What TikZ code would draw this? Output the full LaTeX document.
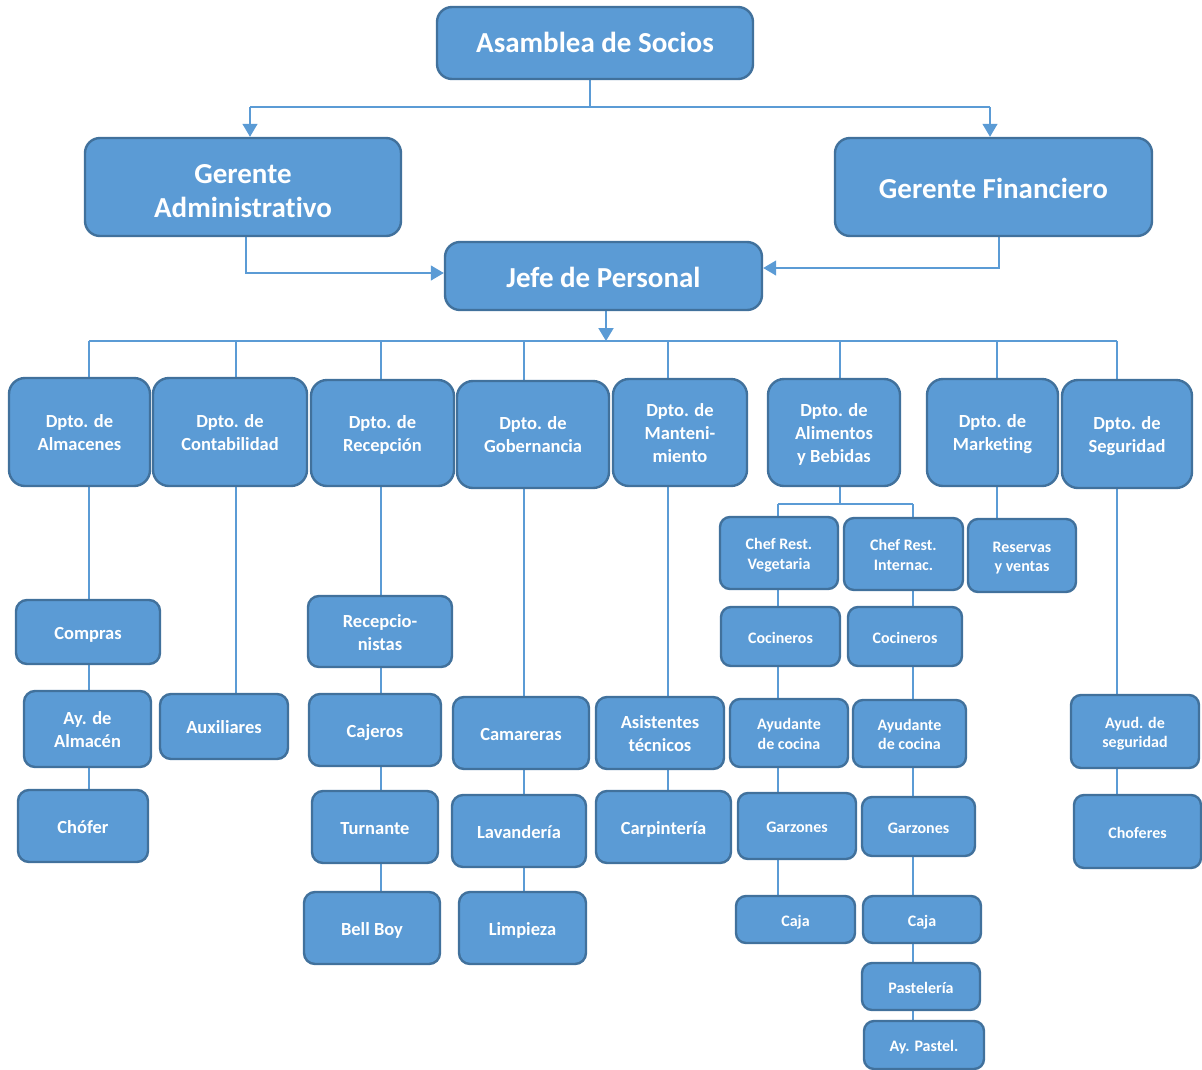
\documentclass[tikz,border=0pt]{standalone}
\usepackage{fontspec}
\setmainfont{Carlito}[Ligatures=NoCommon]
\usetikzlibrary{arrows.meta}
\definecolor{boxfill}{HTML}{5B9BD5}
\definecolor{boxline}{HTML}{41719C}
\definecolor{wire}{HTML}{5B9BD5}
\pgfdeclarelayer{bg}\pgfsetlayers{bg,main}

% invisible struts: height on the first line, depth on the last line;
% together they set the vertical centring of the box texts
\def\sht{19.5pt}\def\sdp{4.9pt}
\newcommand\topprop{\rule{0pt}{\sht}}
\newcommand\botprop{\rule[-\sdp]{0pt}{\sdp}}
\newcommand\setprop[2]{\def\sht{#1}\def\sdp{#2}}

\tikzset{
  box/.style={draw=boxline, fill=boxfill, line width=2.4pt, rounded corners=12pt,
              text=white, align=center, inner sep=0pt},
  big/.style={font=\fontsize{29}{34}\selectfont\bfseries, rounded corners=15pt,
              /utils/exec={\setprop{30pt}{7pt}}},
  lowtext/.style={/utils/exec={\setprop{32pt}{4.4pt}}},
  hightext/.style={/utils/exec={\setprop{28pt}{9pt}}},
  dept/.style={font=\fontsize{18.5}{23}\selectfont\bfseries, rounded corners=16pt,
              /utils/exec={\setprop{19.5pt}{6.1pt}}},
  mid/.style={font=\fontsize{18.5}{23}\selectfont\bfseries, rounded corners=11pt,
              /utils/exec={\setprop{19.5pt}{4.9pt}}},
  small/.style={font=\fontsize{16}{19.5}\selectfont\bfseries, rounded corners=10pt,
              /utils/exec={\setprop{17.5pt}{4.5pt}}},
  wireA/.style={draw=wire, line width=1.3pt},
  wireB/.style={draw=wire, line width=2.4pt},
  wireC/.style={draw=wire, line width=2pt},
  tip/.style={-{Triangle[width=15pt,length=13pt]}},
}

% \orgbox[style]{name}{left}{top}{right}{bottom}{text}
\newcommand\orgbox[7][]{%
  \pgfmathsetmacro\obw{#5-#3}\pgfmathsetmacro\obh{#6-#4}%
  \node[box,#1,minimum width=\obw pt,minimum height=\obh pt] (#2)
    at ({(#3+#5)/2},{(#4+#6)/2}) {\topprop#7\botprop};}

\begin{document}
\begin{tikzpicture}[x=1pt,y=-1pt]
\useasboundingbox (0,0) rectangle (1202,1069);

% top management
\orgbox[big,hightext]{asam}{437}{7}{753}{79}{Asamblea de Socios}
\orgbox[big,lowtext]{ga}{85}{138}{401}{236}{Gerente\\Administrativo}
\orgbox[big]{gf}{835}{138}{1152}{236}{Gerente Financiero}
\orgbox[big]{jefe}{445}{242}{762}{310}{Jefe de Personal}

% departments
\orgbox[dept]{d1}{9}{378}{150}{486}{Dpto. de\\Almacenes}
\orgbox[dept]{d2}{153}{378}{307}{486}{Dpto. de\\Contabilidad}
\orgbox[dept]{d3}{311}{380}{454}{486}{Dpto. de\\Recepción}
\orgbox[dept]{d4}{457}{381}{609}{488}{Dpto. de\\Gobernancia}
\orgbox[dept]{d5}{613}{379}{747}{486}{Dpto. de\\Manteni-\\miento}
\orgbox[dept]{d6}{768}{379}{900}{486}{Dpto. de\\Alimentos\\y Bebidas}
\orgbox[dept]{d7}{927}{379}{1058}{486}{Dpto. de\\Marketing}
\orgbox[dept]{d8}{1062}{380}{1192}{488}{Dpto. de\\Seguridad}

% staff
\orgbox[mid]{compras}{16}{600}{160}{664}{Compras}
\orgbox[mid]{ayalm}{24}{691}{151}{767}{Ay. de\\Almacén}
\orgbox[mid]{chofer}{18}{790}{148}{862}{Chófer}
\orgbox[mid]{aux}{160}{694}{288}{759}{Auxiliares}
\orgbox[mid]{recep}{308}{596}{452}{667}{Recepcio-\\nistas}
\orgbox[mid]{caj}{309}{694}{441}{766}{Cajeros}
\orgbox[mid]{turn}{312}{791}{438}{863}{Turnante}
\orgbox[mid]{bell}{304}{892}{440}{964}{Bell Boy}
\orgbox[mid]{cam}{453}{697}{589}{769}{Camareras}
\orgbox[mid]{lav}{452}{795}{586}{867}{Lavandería}
\orgbox[mid]{limp}{459}{892}{586}{964}{Limpieza}
\orgbox[mid]{asis}{596}{697}{724}{769}{Asistentes\\técnicos}
\orgbox[mid]{carp}{596}{791}{731}{863}{Carpintería}

\orgbox[small]{chefv}{720}{517}{838}{589}{Chef Rest.\\Vegetaria}
\orgbox[small]{chefi}{844}{518}{963}{590}{Chef Rest.\\Internac.}
\orgbox[small]{cocl}{721}{607}{840}{666}{Cocineros}
\orgbox[small]{cocr}{848}{607}{962}{666}{Cocineros}
\orgbox[small]{ayul}{730}{699}{848}{767}{Ayudante\\de cocina}
\orgbox[small]{ayur}{853}{700}{966}{767}{Ayudante\\de cocina}
\orgbox[small]{garl}{738}{793}{856}{859}{Garzones}
\orgbox[small]{garr}{862}{797}{975}{856}{Garzones}
\orgbox[small]{cajal}{736}{896}{855}{943}{Caja}
\orgbox[small]{cajar}{863}{896}{981}{943}{Caja}
\orgbox[small]{pas}{862}{963}{980}{1010}{Pastelería}
\orgbox[small]{aypas}{864}{1021}{984}{1069}{Ay. Pastel.}
\orgbox[small]{res}{968}{519}{1076}{592}{Reservas\\y ventas}
\orgbox[small]{ayseg}{1071}{695}{1199}{768}{Ayud. de\\seguridad}
\orgbox[small]{chofs}{1074}{795}{1201}{868}{Choferes}

% junction points
\coordinate (t0) at (590,107);
\coordinate (tL) at (250,107);
\coordinate (tR) at (990,107);
\coordinate (gaL) at (246,273);
\coordinate (gfR) at (999,268);
\coordinate (bj) at (606,341);
\coordinate (b1) at (89,341);
\coordinate (b2) at (236,341);
\coordinate (b3) at (381,341);
\coordinate (b4) at (524,341);
\coordinate (b5) at (668,341);
\coordinate (b6) at (840,341);
\coordinate (b7) at (997,341);
\coordinate (b8) at (1117,341);
\coordinate (ab) at (840,504);
\coordinate (aL) at (778,504);
\coordinate (aR) at (913,504);

\begin{pgfonlayer}{bg}
  % management links
  \draw[wireA] (asam.south -| t0) -- (t0);
  \draw[wireA] (tL) -- (tR);
  \draw[wireA,tip] (tL) -- (ga.north -| tL);
  \draw[wireA,tip] (tR) -- (gf.north -| tR);
  \draw[wireA,tip] (ga.south -| gaL) |- (jefe.west |- gaL);
  \draw[wireA,tip] (gf.south -| gfR) |- (jefe.east |- gfR);
  \draw[wireC,tip] (jefe.south -| bj) -- (bj);

  % department bar
  \draw[wireB] (b1) -- (b8);
  \foreach \c/\d in {b1/d1,b2/d2,b3/d3,b4/d4,b5/d5,b6/d6,b7/d7,b8/d8}
    \draw[wireB] (\c) -- (\d.north -| \c);

  % department columns
  \foreach \c/\a/\b in {b1/d1/compras, b1/compras/ayalm, b1/ayalm/chofer,
      b2/d2/aux,
      b3/d3/recep, b3/recep/caj, b3/caj/turn, b3/turn/bell,
      b4/d4/cam, b4/cam/lav, b4/lav/limp,
      b5/d5/asis, b5/asis/carp,
      b7/d7/res,
      b8/d8/ayseg, b8/ayseg/chofs}
    \draw[wireB] (\a.south -| \c) -- (\b.north -| \c);

  % food and beverage branch
  \draw[wireC] (d6.south -| ab) -- (ab);
  \draw[wireC] (aL) -- (aR);
  \draw[wireC] (aL) -- (chefv.north -| aL);
  \draw[wireC] (aR) -- (chefi.north -| aR);
  \foreach \c/\a/\b in {aL/chefv/cocl, aL/cocl/ayul, aL/ayul/garl, aL/garl/cajal,
      aR/chefi/cocr, aR/cocr/ayur, aR/ayur/garr, aR/garr/cajar,
      aR/cajar/pas, aR/pas/aypas}
    \draw[wireC] (\a.south -| \c) -- (\b.north -| \c);
\end{pgfonlayer}
\end{tikzpicture}
\end{document}
